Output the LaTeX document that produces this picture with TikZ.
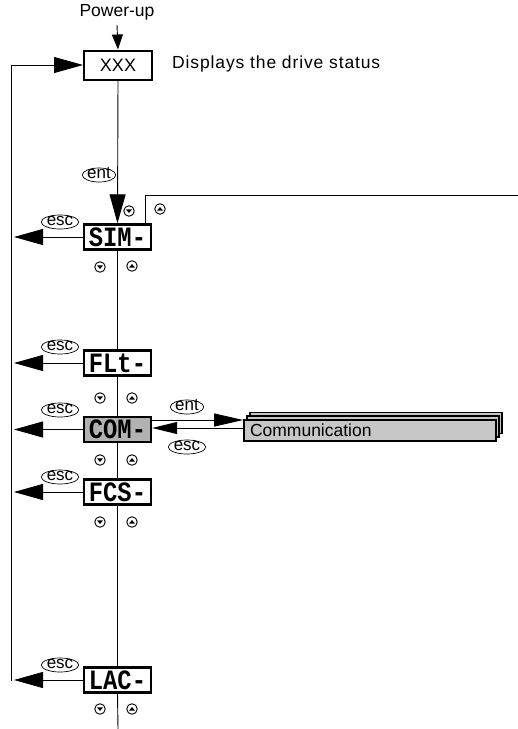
\documentclass[tikz,border=0pt]{standalone}
\usepackage{fontspec}
\setmainfont{Liberation Sans}
\newfontfamily\segfont{Liberation Mono}[FakeStretch=0.85]
\usetikzlibrary{arrows.meta,shapes.geometric}
\begin{document}
\begin{tikzpicture}[x=1pt,y=-1pt,
  line/.style={line width=0.9pt},
  big/.style={line, -{Triangle[length=29pt,width=16pt]}},
  med/.style={line, -{Triangle[length=29pt,width=13pt]}},
  medL/.style={line, -{Triangle[length=25pt,width=12pt]}},
  small/.style={line, -{Triangle[length=15pt,width=11pt]}},
  lbl/.style={font=\fontsize{17.5}{17.5}\selectfont, inner sep=0pt},
  menu/.style={draw, line width=2.4pt, minimum width=67pt, minimum height=25pt, inner sep=0pt, fill=white,
    font=\segfont\bfseries\fontsize{28}{28}\selectfont},
  key/.style={ellipse, draw, line width=0.7pt, inner sep=0pt, minimum width=33pt, minimum height=14pt,
    text height=8pt, text depth=0.5pt, font=\fontsize{17}{17}\selectfont},
  btn/.style={circle, draw, line width=0.9pt, minimum size=10.5pt, inner sep=0pt, fill=white},
  btnd/.style={btn, path picture={\fill[black] ([shift={(-3pt,1.6pt)}]path picture bounding box.center) -- ++(6pt,0pt) -- ++(-3pt,-3.6pt) -- cycle;}},
  btnu/.style={btn, path picture={\fill[black] ([shift={(-3pt,-1.6pt)}]path picture bounding box.center) -- ++(6pt,0pt) -- ++(-3pt,3.6pt) -- cycle;}},
  commbox/.style={draw, line width=1.6pt, fill=black!22, minimum width=252pt, minimum height=21pt, inner sep=0pt}
]
\useasboundingbox (0,0) rectangle (518,729);

% top
\node[lbl] (pu) at (117,12) {Power-up};
\node[draw, line width=2pt, minimum width=68pt, minimum height=29pt, inner sep=0pt, font=\fontsize{18}{18}\selectfont] (xxx) at (118,65) {XXX};
\node[lbl, anchor=west] (disp) at (172,64) {\addfontfeature{LetterSpace=5}Displays the drive status};
\draw[small] ([yshift=-5pt]pu.south) -- (xxx.north);

% menu boxes
\node[menu] (sim) at (117.5,237) {SIM-};
\node[menu] (flt) at (117.5,363) {FLt-};
\node[menu, fill=black!30] (com) at (117.5,429.5) {COM-};
\node[menu] (fcs) at (117.5,492) {FCS-};
\node[menu] (lac) at (117.5,680) {LAC-};

% left return line
\coordinate (ltop) at (11,65);
\coordinate (lbot) at (11,681);
\coordinate (lx) at (14,0);
\draw[line] (lbot) -- (ltop);
\draw[big] (ltop) -- (xxx.west);
\foreach \m in {sim,flt,com,fcs,lac}{
  \draw[big] (\m.west) -- (\m.west -| lx);
}

% main vertical
\coordinate (bot) at (118,729);
\draw[big] (xxx.south) -- (sim.north);
\draw[line] (sim.south) -- (flt.north);
\draw[line] (flt.south) -- (com.north);
\draw[line] (com.south) -- (fcs.north);
\draw[line] (fcs.south) -- (lac.north);
\draw[line] (lac.south) -- (bot);

% upper right branch
\coordinate (ur1) at (145,195);
\coordinate (ur2) at (518,195);
\draw[line] (sim.north -| ur1) -- (ur1) -- (ur2);

% keys
\node[key] (ent1) at (99,175) {ent};
\node[key] (esc1) at (60,222) {esc};
\node[key] (esc2) at (60,347) {esc};
\node[key] (esc3) at (60,410) {esc};
\node[key] (esc4) at (60,477) {esc};
\node[key] (esc5) at (60,665) {esc};
\node[key] (ent2) at (187,407) {ent};
\node[key] (esc6) at (187,447) {esc};

% buttons
\node[btnd] (d0) at (129,211) {};
\node[btnu] (u0) at (160,209) {};
\node[btnd] (d1) at (100,267) {};
\node[btnu] (u1) at (132,266) {};
\node[btnd] (d2) at (100,398) {};
\node[btnu] (u2) at (132,398) {};
\node[btnd] (d3) at (100,460) {};
\node[btnu] (u3) at (132,460) {};
\node[btnd] (d4) at (100,522) {};
\node[btnu] (u4) at (132,522) {};
\node[btnd] (d5) at (100,709) {};
\node[btnu] (u5) at (132,709) {};

% communication stack
\node[commbox] (comm3) at (376,423) {};
\node[commbox] (comm2) at (373,426.5) {};
\node[commbox, inner xsep=6pt, text width=240pt, align=left, font=\fontsize{17.5}{17.5}\selectfont] (comm) at (370,430.5) {Communication};

\draw[med] (com.east |- 0,420) -- (comm.west |- 0,420);
\draw[medL] (comm.west |- 0,428) -- (com.east |- 0,428);
\end{tikzpicture}
\end{document}
